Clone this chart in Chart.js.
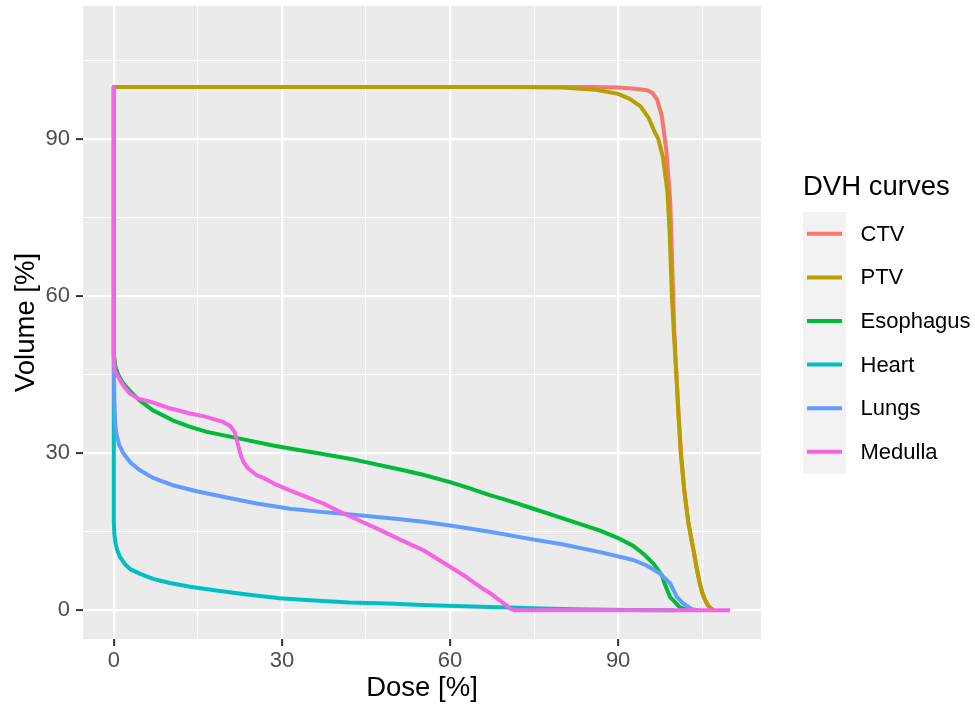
<!DOCTYPE html>
<html>
<head>
<meta charset="utf-8">
<script src="https://cdn.jsdelivr.net/npm/chart.js@4.4.0/dist/chart.umd.min.js"></script>
<style>
  body { margin: 0; background: #fff; }
  #dvh { display: block; }
</style>
</head>
<body>
<canvas id="dvh" width="975" height="707"></canvas>
<script>
// DVH curves (dose %, volume %)
const ctvDose = [0, 85, 90, 93, 95.2, 96.2, 97, 97.8, 98.6, 99.3, 99.6, 100, 100.4, 100.8, 101.2, 101.8, 102.5, 103, 103.5, 104, 104.5, 105, 105.5, 106, 106.5, 107];
const ctvVolume = [100, 100, 99.9, 99.7, 99.4, 98.8, 97.5, 94.5, 88, 78.3, 68, 54, 45, 37, 30, 23, 17, 14, 11.2, 8.2, 5.5, 3.4, 2, 1, 0.4, 0];

const ptvDose = [0, 70, 80, 86, 90, 92, 94, 95.5, 96.5, 97.2, 98, 98.8, 99.2, 99.6, 100, 100.4, 100.8, 101.2, 101.8, 102.5, 103, 103.5, 104, 104.5, 105, 105.5, 106, 106.5, 107];
const ptvVolume = [100, 100, 99.9, 99.5, 98.7, 97.8, 96.3, 94, 91.5, 90, 86.6, 80, 72, 60, 52, 45, 37, 30, 23, 17, 14, 11.2, 8.2, 5.5, 3.4, 2, 1, 0.4, 0];

const esoDose = [0, 0, 0.3, 0.8, 1.7, 3, 4.6, 7, 10.5, 13.5, 16.6, 22.5, 28.4, 31.4, 37, 43.3, 51.1, 55.2, 60, 63, 67.1, 70, 74.9, 80, 86.8, 90, 92.7, 94.5, 96.3, 97.8, 98.4, 99.3, 101, 102.2, 103];
const esoVolume = [100, 49, 46.5, 45, 43.3, 41.8, 40.1, 38.2, 36.3, 35.1, 34.1, 32.8, 31.5, 30.9, 29.9, 28.7, 26.9, 25.9, 24.5, 23.5, 22, 21.1, 19.4, 17.6, 15.2, 13.8, 12.3, 10.8, 8.9, 6.7, 4.8, 2.5, 0.6, 0.1, 0];

const heartDose = [0, 0, 0.1, 0.3, 0.6, 1.1, 2, 3, 4.6, 7, 10, 13.6, 18, 23, 29.6, 35, 42, 49, 55, 61, 67, 72, 78, 85, 92, 100];
const heartVolume = [100, 17, 14.5, 12.8, 11.5, 10.2, 8.8, 7.8, 7.0, 6.0, 5.2, 4.5, 3.8, 3.1, 2.3, 1.9, 1.5, 1.3, 1.0, 0.8, 0.6, 0.45, 0.3, 0.15, 0.05, 0];

const lungsDose = [0, 0, 0.1, 0.25, 0.5, 1, 1.7, 3, 4.6, 7, 10.5, 15, 19.5, 25.5, 31.4, 37, 43.3, 51.1, 55.2, 60, 67.1, 75, 80, 86.8, 92.7, 95, 97.5, 99.3, 100.5, 101.5, 102.3, 103.2, 104.2];
const lungsVolume = [100, 47, 40, 35.5, 33.5, 31.5, 30, 28.2, 26.8, 25.3, 23.9, 22.7, 21.7, 20.4, 19.4, 18.8, 18.2, 17.4, 16.9, 16.2, 15.0, 13.5, 12.6, 11.1, 9.6, 8.6, 7.0, 5.1, 2.5, 1.4, 0.8, 0.2, 0];

const medullaDose = [0, 0, 0.2, 0.5, 1.2, 2, 2.9, 4.5, 6, 7.6, 10, 13.6, 16, 19.5, 20.8, 21.6, 22.2, 22.7, 23.2, 24, 25.5, 26.7, 29, 31.4, 34, 37.4, 40, 43.3, 47, 51.1, 55.2, 60, 63, 65.9, 67.5, 69, 70, 70.7, 71.5, 110];
const medullaVolume = [100, 48, 45.6, 45.2, 43.8, 42.5, 41.4, 40.4, 40, 39.5, 38.6, 37.6, 37.1, 36, 35.2, 34, 31.5, 29.5, 28.2, 27.1, 25.8, 25.3, 24, 22.9, 21.8, 20.4, 19, 17.4, 15.6, 13.5, 11.5, 8.3, 6.3, 4.1, 3, 1.8, 1, 0.3, 0, 0];

const curveNames = ["CTV", "PTV", "Esophagus", "Heart", "Lungs", "Medulla"];
const curveColors = ["#F8766D", "#B79F00", "#00BA38", "#00BFC4", "#619CFF", "#F564E3"];
const curveDose = [ctvDose, ptvDose, esoDose, heartDose, lungsDose, medullaDose];
const curveVolume = [ctvVolume, ptvVolume, esoVolume, heartVolume, lungsVolume, medullaVolume];

const majorTicks = [0, 30, 60, 90];
const gridTicks = [0, 15, 30, 45, 60, 75, 90, 105];

const FONT = "'Liberation Sans', Arial, sans-serif";

const datasets = curveNames.map((name, i) => ({
  label: name,
  data: curveDose[i].map((d, j) => ({ x: d, y: curveVolume[i][j] })),
  borderColor: curveColors[i],
  backgroundColor: curveColors[i],
  borderWidth: 4,
  pointRadius: 0,
  tension: 0,
  borderJoinStyle: "round",
  order: curveNames.length - i // last one on top, like ggplot
}));

const isMajor = ctx => ctx.tick && majorTicks.includes(ctx.tick.value);

function axisOptions(title, extra) {
  return Object.assign({
    type: "linear",
    min: -5.5,
    max: 115.5,
    afterBuildTicks: s => { s.ticks = gridTicks.map(v => ({ value: v })); },
    ticks: {
      autoSkip: false,
      maxRotation: 0,
      color: "#4D4D4D",
      font: { family: FONT, size: 22 },
      callback: v => majorTicks.includes(v) ? String(v) : ""
    },
    grid: {
      color: "#FFFFFF",
      lineWidth: ctx => isMajor(ctx) ? 2.2 : 1.1,
      tickLength: 7,
      tickWidth: 2,
      tickColor: ctx => isMajor(ctx) ? "#333333" : "rgba(0,0,0,0)"
    },
    border: { display: false },
    title: {
      display: true,
      text: title,
      color: "#000",
      font: { family: FONT, size: 27.5 }
    }
  }, extra);
}

const panelBg = {
  id: "panelBg",
  beforeDraw(chart) {
    const { ctx, chartArea: a } = chart;
    ctx.save();
    ctx.fillStyle = "#fff";
    ctx.fillRect(0, 0, chart.width, chart.height);
    ctx.fillStyle = "#EBEBEB";
    ctx.fillRect(a.left, a.top, a.right - a.left, a.bottom - a.top);
    ctx.restore();
  }
};

// ggplot style legend on the right
const dvhLegend = {
  id: "dvhLegend",
  afterDraw(chart) {
    const ctx = chart.ctx;
    const x0 = 803, top = 212, keyH = 43.6, keyW = 43;
    ctx.save();
    ctx.fillStyle = "#000";
    ctx.font = "27.5px " + FONT;
    ctx.textBaseline = "alphabetic";
    ctx.textAlign = "left";
    ctx.fillText("DVH curves", x0, 195);
    ctx.fillStyle = "#F2F2F2";
    ctx.fillRect(x0, top, keyW, keyH * curveNames.length);
    ctx.font = "22px " + FONT;
    ctx.textBaseline = "middle";
    curveNames.forEach((name, i) => {
      const cy = top + keyH * (i + 0.5);
      ctx.strokeStyle = curveColors[i];
      ctx.lineWidth = 4;
      ctx.beginPath();
      ctx.moveTo(x0 + 4, cy);
      ctx.lineTo(x0 + keyW - 4, cy);
      ctx.stroke();
      ctx.fillStyle = "#000";
      ctx.fillText(name, 860.5, cy + 1);
    });
    ctx.restore();
  }
};

new Chart(document.getElementById("dvh"), {
  type: "line",
  data: { datasets },
  options: {
    responsive: false,
    animation: false,
    devicePixelRatio: 1,
    layout: { padding: { left: 0, right: 214, top: 6, bottom: 0 } },
    plugins: { legend: { display: false }, tooltip: { enabled: false } },
    scales: {
      x: axisOptions("Dose [%]", {
        afterFit: s => { s.height = 68; s.paddingLeft = 0; s.paddingRight = 0; }
      }),
      y: axisOptions("Volume [%]", {
        afterFit: s => { s.width = 83; s.paddingTop = 0; s.paddingBottom = 0; }
      })
    }
  },
  plugins: [panelBg, dvhLegend]
});

// per-axis padding tweaks
const c = Chart.getChart("dvh");
c.options.scales.x.ticks.padding = 2;
c.options.scales.x.title.padding = { top: 0, bottom: 2 };
c.options.scales.y.ticks.padding = 6;
c.options.scales.y.title.padding = { top: 10, bottom: 0 };
c.update();
</script>
</body>
</html>
